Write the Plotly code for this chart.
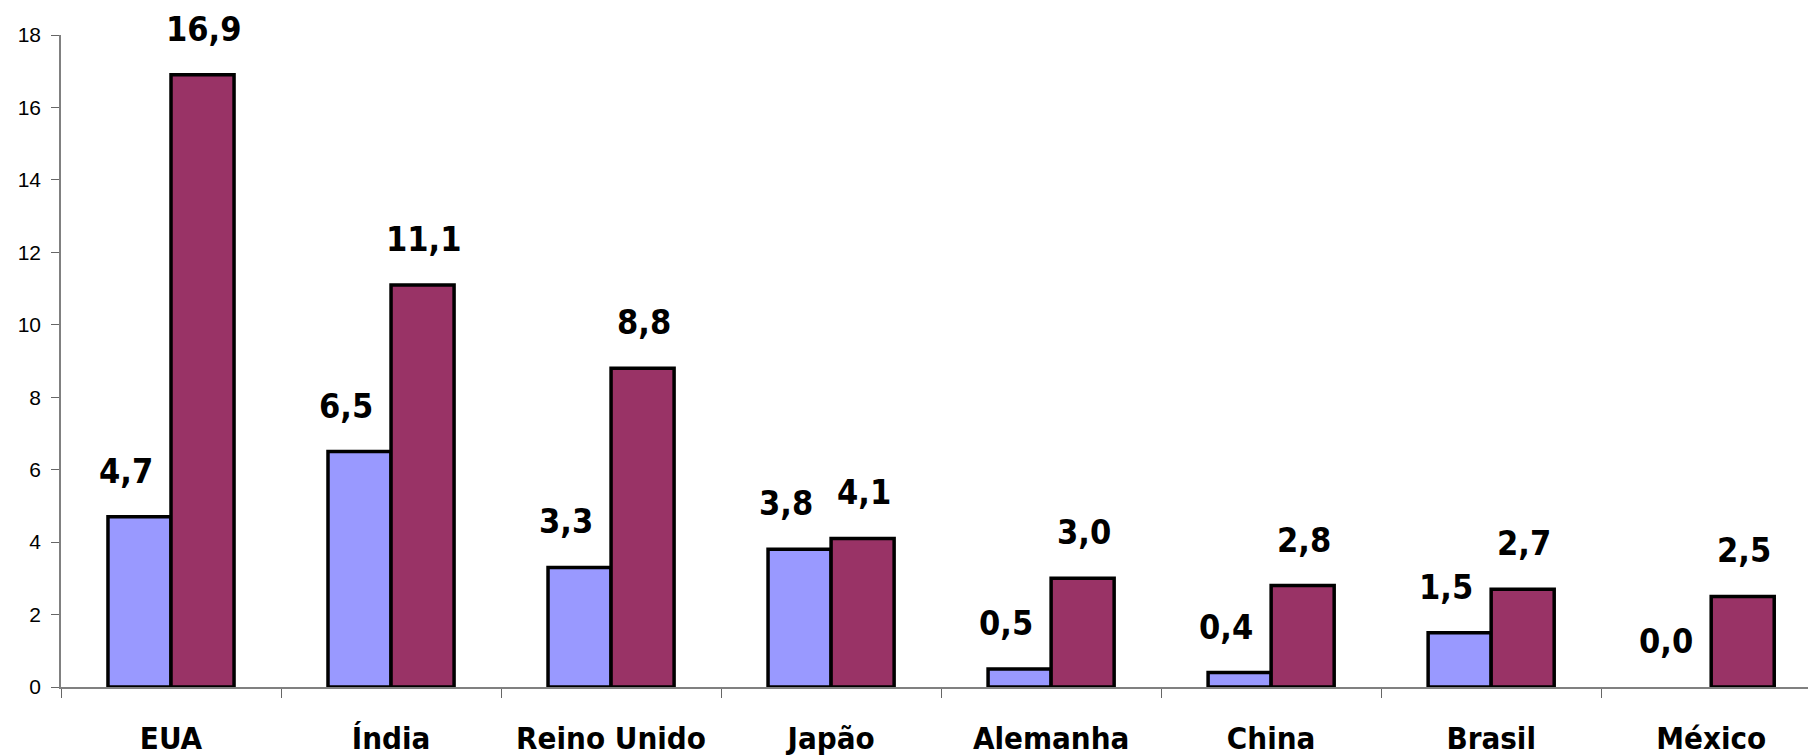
import plotly.graph_objects as go

# Countries and the two series of values
categories = ["EUA", "Índia", "Reino Unido", "Japão", "Alemanha", "China", "Brasil", "México"]
series_a = [4.7, 6.5, 3.3, 3.8, 0.5, 0.4, 1.5, 0.0]
series_b = [16.9, 11.1, 8.8, 4.1, 3.0, 2.8, 2.7, 2.5]
y_ticks = [0, 2, 4, 6, 8, 10, 12, 14, 16, 18]

COLOR_A = "#9999FF"
COLOR_B = "#993366"
BOLD_FAMILY = "DejaVu Sans Condensed, Liberation Sans Narrow, Arial Narrow, Liberation Sans, Arial"
LABEL_FONT = dict(family=BOLD_FAMILY, size=34, color="black", weight="bold")


def fmt(v):
    return f"{v:.1f}".replace(".", ",")


fig = go.Figure()
for vals, color in ((series_a, COLOR_A), (series_b, COLOR_B)):
    fig.add_trace(go.Bar(
        x=categories, y=vals,
        marker=dict(color=color,
                    line=dict(color="black", width=[3.5 if v > 0 else 0 for v in vals])),
        hoverinfo="x+y",
    ))

# value labels above each bar (pixel offset from the group centre)
BAR_PX = 31.5
SHIFT = {-1: -14, 1: 1}
for i, cat in enumerate(categories):
    for vals, side in ((series_a, -1), (series_b, 1)):
        fig.add_annotation(
            x=cat, y=vals[i], text=fmt(vals[i]),
            xref="x", yref="y", showarrow=False,
            xanchor="center", yanchor="bottom",
            xshift=side * BAR_PX + SHIFT[side], yshift=24,
            font=LABEL_FONT,
        )

fig.update_layout(
    width=1808, height=756,
    margin=dict(l=61, r=0, t=35, b=66),
    paper_bgcolor="white", plot_bgcolor="white",
    barmode="group", bargap=0.427, bargroupgap=0,
    showlegend=False,
)
fig.update_xaxes(
    type="category",
    range=[-0.5, 7.44],
    tickmode="array", tickvals=categories, ticktext=categories,
    tickangle=0,
    tickson="boundaries", ticks="outside", ticklen=9, tickwidth=1, tickcolor="#666666",
    showline=True, linecolor="#808080", linewidth=1.5,
    showgrid=False, zeroline=False,
    tickfont=dict(family=BOLD_FAMILY, size=31, color="black", weight="bold"),
    ticklabelstandoff=23,
)
fig.update_yaxes(
    range=[0, 18],
    tickmode="array", tickvals=y_ticks,
    ticks="outside", ticklen=8, tickwidth=1, tickcolor="#666666",
    showline=True, linecolor="#808080", linewidth=1.5,
    showgrid=False, zeroline=False,
    tickfont=dict(family="Liberation Sans, Arial", size=21, color="black"),
    ticklabelstandoff=6,
)

fig.write_html("out.html")
